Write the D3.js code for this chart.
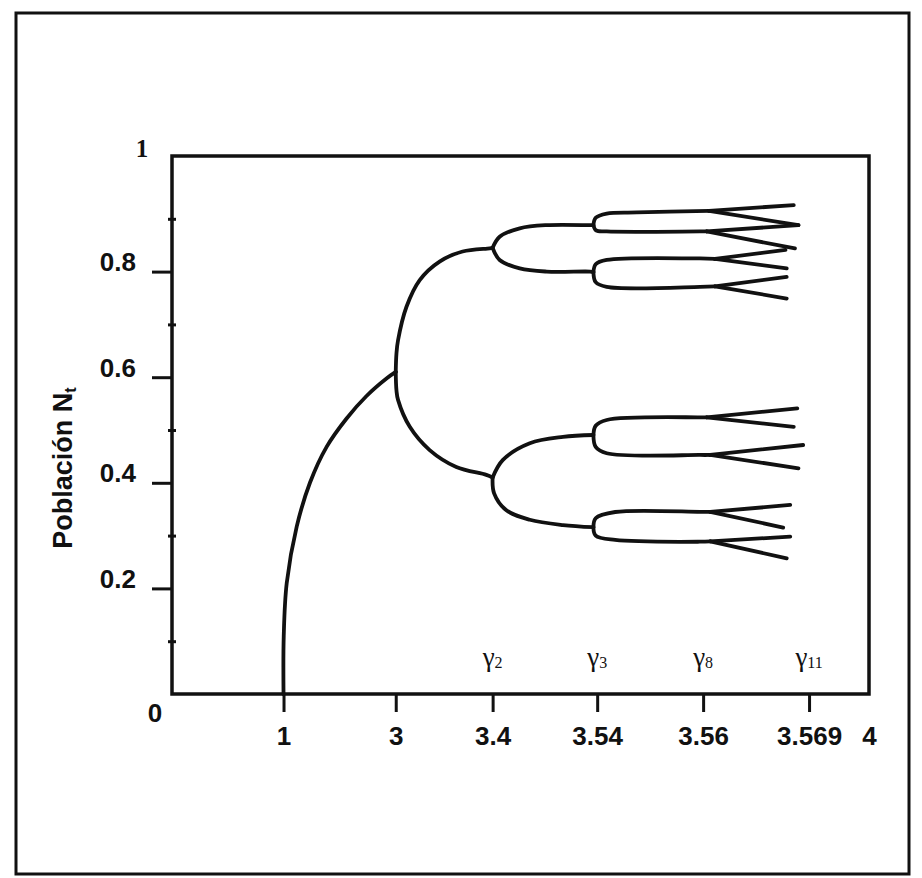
<!DOCTYPE html>
<html lang="es">
<head>
<meta charset="utf-8">
<title>Bifurcación</title>
<script src="https://d3js.org/d3.v7.min.js"></script>
<style>
  body { margin: 0; background: #fff; }
  .lab { font-family: "Liberation Sans", Arial, sans-serif; font-weight: bold; fill: #111; }
  .tick text { font-family: "Liberation Sans", Arial, sans-serif; font-weight: bold; font-size: 26px; fill: #111; }
  .tick line { stroke: #111; stroke-width: 3; }
  .branch { fill: none; stroke: #111; stroke-width: 3.8; stroke-linecap: round; stroke-linejoin: round; }
</style>
</head>
<body>
<div id="chart"></div>
<script>

// axis: the r axis is drawn with uneven spacing, like the original
var xBreaks = [0, 1, 3, 3.4, 3.54, 3.56, 3.569, 4];
var xSlots  = [0, 0.16, 0.321, 0.46, 0.61, 0.762, 0.914, 1];   // share of plot width
var xTicks = [1, 3, 3.4, 3.54, 3.56, 3.569, 4];
var xTickLabels = ["1", "3", "3.4", "3.54", "3.56", "3.569", "4"];
var gammaTicks = [3.4, 3.54, 3.56, 3.569];
var gammaSubs = ["2", "3", "8", "11"];
var yTicks = [0.2, 0.4, 0.6, 0.8];
var yMinor = [0.1, 0.3, 0.5, 0.7, 0.9];

// [r, N]
var stable = [[1, 0], [1.004, 0.11], [1.057, 0.21], [1.235, 0.317], [1.471, 0.40], [1.768, 0.468],
  [2.124, 0.5218], [2.479, 0.5644], [2.835, 0.5975], [3, 0.61]];

var period2 = [
  [[3, 0.61], [3.003, 0.645], [3.0095, 0.670], [3.044, 0.733], [3.099, 0.784], [3.181, 0.819], [3.276, 0.838], [3.388, 0.844], [3.4, 0.845]],
  [[3, 0.61], [3.003, 0.575], [3.0095, 0.557], [3.058, 0.506], [3.14, 0.462], [3.25, 0.43], [3.374, 0.415], [3.4, 0.41]]
];

var period4 = [
  [[3.4, 0.845], [3.4094, 0.866], [3.4363, 0.882], [3.4723, 0.888], [3.5306, 0.888], [3.535, 0.888]],
  [[3.4, 0.845], [3.4094, 0.822], [3.4363, 0.806], [3.4723, 0.800], [3.5306, 0.800], [3.535, 0.799]],
  [[3.4, 0.41], [3.4135, 0.443], [3.4498, 0.475], [3.4942, 0.487], [3.535, 0.4905]],
  [[3.4, 0.41], [3.402, 0.38], [3.4184, 0.348], [3.4498, 0.330], [3.4942, 0.320], [3.535, 0.316]]
];

var period8 = [
  [[3.535, 0.888], [3.538, 0.902], [3.5418, 0.910], [3.5475, 0.912], [3.5605, 0.915]],
  [[3.535, 0.888], [3.5385, 0.878], [3.5418, 0.876], [3.5594, 0.876], [3.5603, 0.876]],
  [[3.535, 0.799], [3.538, 0.814], [3.5418, 0.822], [3.5594, 0.825], [3.561, 0.824]],
  [[3.535, 0.799], [3.538, 0.780], [3.5418, 0.771], [3.5594, 0.771], [3.561, 0.772]],
  [[3.535, 0.4905], [3.538, 0.508], [3.5418, 0.519], [3.5594, 0.524], [3.5603, 0.524]],
  [[3.535, 0.4905], [3.538, 0.468], [3.5418, 0.456], [3.5594, 0.4527], [3.5606, 0.4527]],
  [[3.535, 0.316], [3.538, 0.333], [3.5434, 0.3447], [3.5594, 0.345], [3.5606, 0.345]],
  [[3.535, 0.316], [3.538, 0.300], [3.5434, 0.2917], [3.5594, 0.2884], [3.5606, 0.289]]
];

var period16 = [
  [[3.5605, 0.915], [3.5677, 0.926]], [[3.5605, 0.915], [3.5681, 0.888]],
  [[3.5603, 0.876], [3.5681, 0.888]], [[3.5603, 0.876], [3.5678, 0.844]],
  [[3.561, 0.824], [3.567, 0.841]],   [[3.561, 0.824], [3.5671, 0.806]],
  [[3.561, 0.772], [3.5671, 0.790]],  [[3.561, 0.772], [3.5671, 0.749]],
  [[3.5603, 0.524], [3.568, 0.541]],  [[3.5603, 0.524], [3.5677, 0.506]],
  [[3.5606, 0.4527], [3.5685, 0.4716]], [[3.5606, 0.4527], [3.5681, 0.4275]],
  [[3.5606, 0.345], [3.5674, 0.358]], [[3.5606, 0.345], [3.5668, 0.3153]],
  [[3.5606, 0.289], [3.5674, 0.298]], [[3.5606, 0.289], [3.5671, 0.257]]
];

var W = 922, H = 878;
var margin = {top: 156, right: 53, bottom: 184, left: 172},
    width = W - margin.left - margin.right,
    height = H - margin.top - margin.bottom;

var root = d3.select("#chart").append("svg")
    .attr("width", W)
    .attr("height", H);

// outer frame of the figure
root.append("rect")
    .attr("x", 16).attr("y", 13)
    .attr("width", 893).attr("height", 861)
    .attr("fill", "none").attr("stroke", "#111").attr("stroke-width", 3);

var svg = root.append("g")
    .attr("transform", "translate(" + margin.left + "," + margin.top + ")");

var x = d3.scaleLinear()
    .domain(xBreaks)
    .range(xSlots.map(function(s){ return s * width; }));

var y = d3.scaleLinear()
    .domain([0, 1])
    .range([height, 10]);

// x axis
var xAxis = svg.append("g")
    .attr("transform", "translate(0," + height + ")")
    .call(d3.axisBottom(x)
      .tickValues(xTicks)
      .tickSize(18)
      .tickPadding(15)
      .tickFormat(function(d, i){ return xTickLabels[i]; }));
xAxis.select(".domain").remove();
xAxis.selectAll(".tick").filter(function(d){ return d === 4; }).select("line").remove();

// y axis
var yAxis = svg.append("g")
    .call(d3.axisLeft(y)
      .tickValues(yTicks)
      .tickSize(20)
      .tickPadding(16)
      .tickFormat(d3.format(".1f")));
yAxis.select(".domain").remove();
yAxis.selectAll("text").attr("dy", "-0.04em");

var yMin = svg.append("g")
    .attr("transform", "translate(4,0)")
    .call(d3.axisLeft(y).tickValues(yMinor).tickSize(8).tickFormat(""));
yMin.select(".domain").remove();
yMin.selectAll("line").attr("stroke-width", 2.5);

// plot box
svg.append("rect")
    .attr("width", width).attr("height", height)
    .attr("fill", "none").attr("stroke", "#111").attr("stroke-width", 3.5);

// curves
var line = d3.line()
    .x(function(d){ return x(d[0]); })
    .y(function(d){ return y(d[1]); })
    .curve(d3.curveCatmullRom.alpha(0.5));

var branches = [stable].concat(period2, period4, period8, period16);
svg.selectAll(".branch")
    .data(branches)
    .enter()
    .append("path")
      .attr("class", "branch")
      .attr("d", line);

// gamma labels
var g = svg.selectAll(".gamma")
    .data(gammaTicks)
    .enter()
    .append("text")
      .attr("class", "gamma")
      .attr("x", function(d){ return x(d); })
      .attr("y", y(0) - 28)
      .attr("text-anchor", "middle")
      .attr("font-family", "'Liberation Serif', 'Times New Roman', serif")
      .attr("font-size", "27px")
      .attr("fill", "#111");
g.append("tspan").text("γ");
g.append("tspan")
    .attr("font-size", "16px")
    .attr("dy", "2")
    .text(function(d, i){ return gammaSubs[i]; });

// 0 at the origin and 1 at the top
svg.append("text")
    .attr("class", "lab")
    .attr("x", -17).attr("y", height + 28)
    .attr("text-anchor", "middle")
    .attr("font-size", "26px")
    .text("0");

svg.append("text")
    .attr("x", -30).attr("y", 1)
    .attr("text-anchor", "middle")
    .attr("font-family", "'Liberation Serif', 'Times New Roman', serif")
    .attr("font-weight", "bold")
    .attr("font-size", "25px")
    .attr("fill", "#111")
    .text("1");

// y label
var yl = root.append("text")
    .attr("class", "lab")
    .attr("transform", "translate(72,468) rotate(-90)")
    .attr("text-anchor", "middle")
    .attr("font-size", "27px");
yl.append("tspan").text("Población N");
yl.append("tspan").attr("font-size", "16px").attr("dy", "4").text("t");

</script>
</body>
</html>
